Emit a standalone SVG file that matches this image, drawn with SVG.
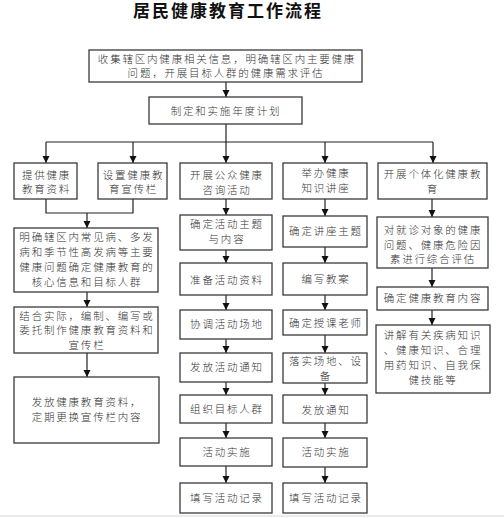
<svg xmlns="http://www.w3.org/2000/svg" width="504" height="518" viewBox="0 0 504 518">
<defs>
<marker id="ah" markerUnits="userSpaceOnUse" markerWidth="8" markerHeight="8" refX="7" refY="3.5" orient="auto">
<path d="M0,0 L7,3.5 L0,7 z" fill="#111"/>
</marker>
</defs>
<style>
.b{fill:#fff;stroke:#3a3a3a;stroke-width:1.3}
.t{font-family:"Noto Sans CJK SC","Noto Sans",sans-serif;font-size:10.5px;font-weight:300;letter-spacing:1.8px;fill:#333;text-anchor:middle}
.ttl{font-family:"Noto Sans CJK SC","Noto Sans",sans-serif;font-size:17px;font-weight:bold;letter-spacing:2px;fill:#111;text-anchor:middle}
.c{stroke:#222;stroke-width:1.2;fill:none}
.a{stroke:#222;stroke-width:1.2;fill:none;marker-end:url(#ah)}
</style>
<rect x="0" y="0" width="504" height="518" fill="#fff"/>
<line x1="0" y1="516" x2="504" y2="516" stroke="#e4e4e4" stroke-width="1.5"/>
<text class="ttl" x="228" y="16.5">居民健康教育工作流程</text>

<g id="connectors">
<line class="a" x1="226" y1="82" x2="226" y2="97"/>
<polyline class="c" points="226,124 226,142"/>
<line class="c" x1="46" y1="142" x2="433" y2="142"/>
<line class="a" x1="46" y1="142" x2="46" y2="163"/>
<line class="a" x1="133" y1="142" x2="133" y2="163"/>
<line class="a" x1="226" y1="142" x2="226" y2="163"/>
<line class="a" x1="325" y1="142" x2="325" y2="163"/>
<line class="a" x1="433" y1="142" x2="433" y2="163"/>
<polyline class="c" points="46,199 46,213 133,213 133,199"/>
<line class="a" x1="87" y1="213" x2="87" y2="228"/>
<line class="a" x1="87" y1="292" x2="87" y2="307"/>
<line class="a" x1="87" y1="353" x2="87" y2="377"/>
<line class="a" x1="226" y1="199" x2="226" y2="215"/>
<line class="a" x1="226" y1="250" x2="226" y2="263"/>
<line class="a" x1="226" y1="295" x2="226" y2="310"/>
<line class="a" x1="226" y1="339" x2="226" y2="353"/>
<line class="a" x1="226" y1="382" x2="226" y2="395"/>
<line class="a" x1="226" y1="423" x2="226" y2="438"/>
<line class="a" x1="226" y1="466" x2="226" y2="483"/>
<line class="a" x1="325" y1="199" x2="325" y2="216"/>
<line class="a" x1="325" y1="247" x2="325" y2="263"/>
<line class="a" x1="325" y1="295" x2="325" y2="310"/>
<line class="a" x1="325" y1="335" x2="325" y2="353"/>
<line class="a" x1="325" y1="383" x2="325" y2="395"/>
<line class="a" x1="325" y1="423" x2="325" y2="438"/>
<line class="a" x1="325" y1="467" x2="325" y2="483"/>
<line class="a" x1="432" y1="199" x2="432" y2="217"/>
<line class="a" x1="432" y1="268" x2="432" y2="287"/>
<line class="a" x1="432" y1="310" x2="432" y2="325"/>
</g>

<g id="n1"><rect class="b" x="89" y="50" width="273" height="32"/>
<text class="t" x="227" y="63">收集辖区内健康相关信息，明确辖区内主要健康</text>
<text class="t" x="226" y="77">问题，开展目标人群的健康需求评估</text></g>
<g id="n2"><rect class="b" x="149" y="97" width="153" height="27"/>
<text class="t" x="226" y="114.5">制定和实施年度计划</text></g>

<g id="a1"><rect class="b" x="14" y="163" width="63" height="36"/>
<text class="t" x="46.5" y="179">提供健康</text><text class="t" x="46.5" y="193">教育资料</text></g>
<g id="b1"><rect class="b" x="98" y="163" width="69" height="36"/>
<text class="t" x="133.5" y="179">设置健康教</text><text class="t" x="133.5" y="193">育宣传栏</text></g>
<g id="f"><rect class="b" x="14" y="228" width="144" height="64"/>
<text class="t" x="87" y="241">明确辖区内常见病、多发</text>
<text class="t" x="87" y="256">病和季节性高发病等主要</text>
<text class="t" x="87" y="271">健康问题确定健康教育的</text>
<text class="t" x="87" y="286">核心信息和目标人群</text></g>
<g id="g"><rect class="b" x="14" y="307" width="144" height="46"/>
<text class="t" x="87" y="320">结合实际，编制、编写或</text>
<text class="t" x="87" y="334">委托制作健康教育资料和</text>
<text class="t" x="87" y="349">宣传栏</text></g>
<g id="h"><rect class="b" x="14" y="377" width="145" height="66"/>
<text class="t" x="87" y="406">发放健康教育资料，</text>
<text class="t" x="87" y="421">定期更换宣传栏内容</text></g>

<g id="c1"><rect class="b" x="180" y="163" width="92" height="36"/>
<text class="t" x="227" y="179">开展公众健康</text><text class="t" x="227" y="194">咨询活动</text></g>
<g id="c2"><rect class="b" x="180" y="215" width="92" height="35"/>
<text class="t" x="227" y="228">确定活动主题</text><text class="t" x="227" y="243">与内容</text></g>
<g id="c3"><rect class="b" x="180" y="263" width="92" height="32"/>
<text class="t" x="227" y="284">准备活动资料</text></g>
<g id="c4"><rect class="b" x="180" y="310" width="92" height="29"/>
<text class="t" x="227" y="328">协调活动场地</text></g>
<g id="c5"><rect class="b" x="180" y="353" width="92" height="29"/>
<text class="t" x="227" y="371">发放活动通知</text></g>
<g id="c6"><rect class="b" x="180" y="395" width="92" height="28"/>
<text class="t" x="227" y="413">组织目标人群</text></g>
<g id="c7"><rect class="b" x="180" y="438" width="92" height="28"/>
<text class="t" x="227" y="456">活动实施</text></g>
<g id="c8"><rect class="b" x="180" y="483" width="92" height="30"/>
<text class="t" x="227" y="502">填写活动记录</text></g>

<g id="d1"><rect class="b" x="283" y="163" width="84" height="36"/>
<text class="t" x="326" y="177">举办健康</text><text class="t" x="326" y="192">知识讲座</text></g>
<g id="d2"><rect class="b" x="283" y="216" width="84" height="31"/>
<text class="t" x="326" y="235">确定讲座主题</text></g>
<g id="d3"><rect class="b" x="283" y="263" width="84" height="32"/>
<text class="t" x="326" y="283">编写教案</text></g>
<g id="d4"><rect class="b" x="283" y="310" width="84" height="25"/>
<text class="t" x="326" y="327">确定授课老师</text></g>
<g id="d5"><rect class="b" x="283" y="353" width="84" height="30"/>
<text class="t" x="326" y="364.5">落实场地、设</text><text class="t" x="326" y="379.5">备</text></g>
<g id="d6"><rect class="b" x="283" y="395" width="84" height="28"/>
<text class="t" x="326" y="414">发放通知</text></g>
<g id="d7"><rect class="b" x="283" y="438" width="84" height="29"/>
<text class="t" x="326" y="456">活动实施</text></g>
<g id="d8"><rect class="b" x="283" y="483" width="84" height="30"/>
<text class="t" x="326" y="502">填写活动记录</text></g>

<g id="e1"><rect class="b" x="378" y="163" width="109" height="36"/>
<text class="t" x="433" y="178">开展个体化健康教</text><text class="t" x="433" y="193">育</text></g>
<g id="e2"><rect class="b" x="377" y="217" width="111" height="51"/>
<text class="t" x="433" y="234">对就诊对象的健康</text>
<text class="t" x="433" y="249">问题、健康危险因</text>
<text class="t" x="433" y="263">素进行综合评估</text></g>
<g id="e3"><rect class="b" x="377" y="287" width="111" height="23"/>
<text class="t" x="433" y="302">确定健康教育内容</text></g>
<g id="e4"><rect class="b" x="376" y="325" width="114" height="68"/>
<text class="t" x="433" y="339">讲解有关疾病知识</text>
<text class="t" x="433" y="354">、健康知识、合理</text>
<text class="t" x="433" y="369">用药知识、自我保</text>
<text class="t" x="433" y="384">健技能等</text></g>
</svg>
